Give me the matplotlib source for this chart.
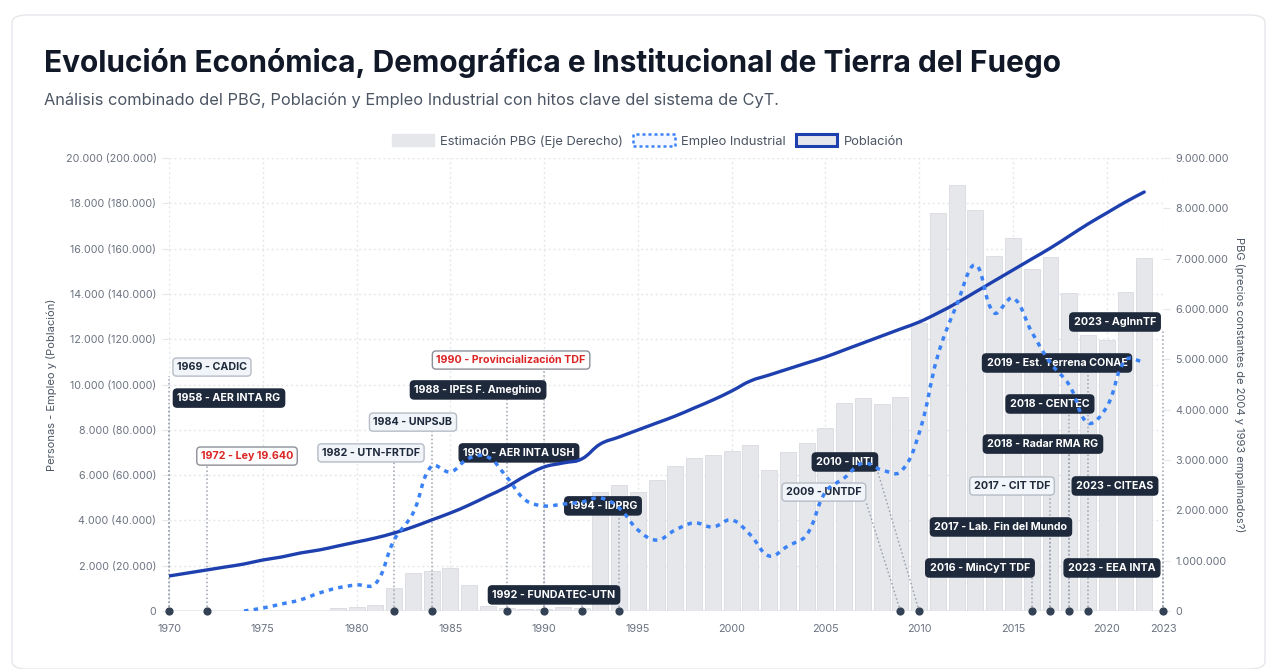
import matplotlib
matplotlib.use('Agg')
import matplotlib.pyplot as plt
from matplotlib.patches import Patch, FancyBboxPatch, PathPatch
from matplotlib.path import Path
import numpy as np

plt.rcParams['font.family'] = ['Inter', 'DejaVu Sans']

# ---------------- DATA ----------------
anios_pob = list(range(1970, 2023))
poblacion = [15450, 16780, 18100, 19430, 20750, 22520, 23840, 25610, 26930, 28700,
             30460, 32230, 34440, 37090, 40180, 43270, 46800, 50770, 54750, 59600,
             63580, 65340, 67110, 73730, 76820, 79910, 83000, 86090, 89620, 93160,
             97130, 101550, 104190, 106840, 109490, 112140, 115230, 118320, 121410, 124500,
             127590, 131570, 135980, 140840, 145700, 150550, 155410, 160260, 165560, 170860,
             175720, 180570, 184990]

anios_empleo = list(range(1974, 2023))
empleo = [0, 130, 310, 490, 790, 1020, 1150, 1190, 3130, 4300,
          6400, 6140, 6750, 6800, 5920, 4900, 4640, 4720, 4810, 4990,
          4550, 3580, 3130, 3580, 3890, 3710, 4020, 3360, 2430, 2870,
          3360, 5250, 5870, 6530, 6230, 6140, 7860, 11300, 13510, 15280,
          13160, 13820, 12320, 10950, 9980, 8300, 9010, 11080, 10990]

anios_pbg = list(range(1979, 2023))
pbg = [50000, 80000, 120000, 450000, 760000, 790000, 850000, 520000, 100000, 60000,
       40000, 40000, 70000, 60000, 2370000, 2500000, 2370000, 2600000, 2880000, 3040000,
       3100000, 3180000, 3300000, 2800000, 3160000, 3340000, 3640000, 4130000, 4230000, 4110000,
       4250000, 5720000, 7910000, 8460000, 7970000, 7050000, 7410000, 6800000, 7030000, 6320000,
       5480000, 5380000, 6340000, 7010000]

hitos_anio = [1969, 1958, 1972, 1982, 1984, 1988, 1990, 1990, 1994, 1992,
              2009, 2010, 2016, 2017, 2017, 2018, 2018, 2019, 2023, 2023, 2023]
hitos_texto = ["CADIC", "AER INTA RG", "Ley 19.640", "UTN-FRTDF", "UNPSJB",
               "IPES F. Ameghino", "Provincialización TDF", "AER INTA USH", "IDPRG",
               "FUNDATEC-UTN", "UNTDF", "INTI", "MinCyT TDF", "Lab. Fin del Mundo",
               "CIT TDF", "Radar RMA RG", "CENTEC", "Est. Terrena CONAE", "AgInnTF",
               "CITEAS", "EEA INTA"]
hitos_tipo = ["light", "dark", "red", "light", "light", "dark", "red", "dark", "dark",
              "dark", "light", "dark", "dark", "dark", "light", "dark", "dark", "dark",
              "dark", "dark", "dark"]

# layout: label centre positions (x in years, y on left axis)
label_pos = [(1972.29, 10770), (1973.20, 9400), (1974.16, 6840), (1980.77, 6980),
             (1983.01, 8340), (1986.48, 9760), (1988.24, 11080), (1988.66, 6980),
             (1993.14, 4640), (1990.53, 710), (2004.92, 5250), (2006.04, 6580),
             (2013.24, 1900), (2014.36, 3710), (2014.95, 5520), (2016.60, 7370),
             (2016.97, 9140), (2017.35, 10950), (2020.44, 12760), (2020.44, 5520),
             (2020.28, 1900)]

X_MIN, X_MAX = 1970, 2023
x_ticks = [1970, 1975, 1980, 1985, 1990, 1995, 2000, 2005, 2010, 2015, 2020, 2023]
y_left_ticks = list(range(0, 20001, 2000))
y_right_ticks = list(range(0, 9000001, 1000000))

# ---------------- FIGURE ----------------
W, H = 1273, 669
fig = plt.figure(figsize=(W / 100, H / 100), dpi=100)
fig.patch.set_facecolor('white')
card = FancyBboxPatch((12 / W, 0.0), (1265 - 12) / W, (669 - 15) / H,
                      boxstyle="round,pad=0,rounding_size=0.012",
                      transform=fig.transFigure, facecolor='white',
                      edgecolor='#e5e7eb', lw=1.0, zorder=0)
fig.patches.append(card)

fig.text(44 / W, 1 - 63 / H, "Evolución Económica, Demográfica e Institucional de Tierra del Fuego",
         fontsize=21.5, fontweight='bold', color='#111827', va='center', ha='left')
fig.text(44 / W, 1 - 100 / H,
         "Análisis combinado del PBG, Población y Empleo Industrial con hitos clave del sistema de CyT.",
         fontsize=11.8, color='#4b5563', va='center', ha='left')

L, R, T, B = 169, 1163, 158, 611
ax = fig.add_axes([L / W, 1 - B / H, (R - L) / W, (B - T) / H])
ax2 = ax.twinx()
ax.set_zorder(2)
ax.patch.set_visible(False)
ax2.set_zorder(1)

ax.set_xlim(X_MIN, X_MAX)
ax.set_ylim(0, 20000)
ax2.set_ylim(0, 9000000)

for a in (ax, ax2):
    for s in a.spines.values():
        s.set_visible(False)

# grid (drawn in bottom axes)
for v in y_left_ticks:
    ax2.axhline(v / 20000 * 9000000, color='#e5e7eb', lw=1, ls=(0, (1.5, 2)), zorder=0)
for v in x_ticks:
    ax2.axvline(v, color='#e5e7eb', lw=1, ls=(0, (1.5, 2)), zorder=0)
ax2.axhline(0, color='#e5e7eb', lw=1.2, zorder=0)

# bars
ax2.bar(anios_pbg, pbg, width=0.85, color='#e5e7eb', edgecolor='#d8dbe0', lw=0.6, zorder=1)

# ticks
def fmt_miles(v):
    return f"{int(v):,}".replace(',', '.')

ax.set_xticks(x_ticks)
ax.set_xticklabels([str(v) for v in x_ticks])
ax.set_yticks(y_left_ticks)
ax.set_yticklabels(['0' if v == 0 else f"{fmt_miles(v)} ({fmt_miles(v * 10)})" for v in y_left_ticks])
ax2.set_yticks(y_right_ticks)
ax2.set_yticklabels([fmt_miles(v) for v in y_right_ticks])
ax.tick_params(axis='x', length=0, pad=9, labelsize=7.8, labelcolor='#6b7280')
ax.tick_params(axis='y', length=5, color='#e5e7eb', pad=4, labelsize=7.7, labelcolor='#6b7280')
ax2.tick_params(axis='y', length=5, color='#e5e7eb', pad=4, labelsize=7.8, labelcolor='#6b7280')
ax.set_ylabel("Personas - Empleo y (Población)", fontsize=8, color='#4b5563', labelpad=6)
ax2.set_ylabel("PBG (precios constantes de 2004 y 1993 empalmados?)", fontsize=8,
               color='#4b5563', rotation=270, labelpad=11)

# Chart.js-like spline
def spline_path(a, xs, ys, tension=0.4):
    pts = a.transData.transform(np.column_stack([xs, ys]).astype(float))
    n = len(pts)
    cp_prev, cp_next = [], []
    for i in range(n):
        prev = pts[max(i - 1, 0)]
        cur = pts[i]
        nxt = pts[min(i + 1, n - 1)]
        d01 = np.hypot(*(cur - prev))
        d12 = np.hypot(*(nxt - cur))
        tot = d01 + d12
        s01 = d01 / tot if tot else 0
        s12 = d12 / tot if tot else 0
        cp_prev.append(cur - tension * s01 * (nxt - prev))
        cp_next.append(cur + tension * s12 * (nxt - prev))
    bb = a.bbox
    verts = [pts[0]]
    codes = [Path.MOVETO]
    for i in range(n - 1):
        for p in (cp_next[i], cp_prev[i + 1]):
            q = p.copy()
            q[1] = min(max(q[1], bb.y0), bb.y1)
            verts.append(q)
        verts.append(pts[i + 1])
        codes += [Path.CURVE4] * 3
    verts = a.transData.inverted().transform(np.array(verts))
    return Path(verts, codes)

pob_plot = [p / 10 for p in poblacion]
ax.add_patch(PathPatch(spline_path(ax, anios_pob, pob_plot), facecolor='none',
                       edgecolor='#1e40af', lw=2.4, zorder=6, capstyle='round'))
ax.add_patch(PathPatch(spline_path(ax, anios_empleo, empleo), facecolor='none',
                       edgecolor='#3b82f6', lw=2.5, ls=(0, (1.3, 1.5)), zorder=6))

# milestone labels
styles = {
    'dark': dict(fc='#1e293b', ec='#1e293b', tc='white'),
    'light': dict(fc='#f1f5f9', ec='#b6bcc6', tc='#1e293b'),
    'red': dict(fc='white', ec='#8b8f96', tc='#dc2626'),
}
texts = []
for yr, txt, tp, (lx, ly) in zip(hitos_anio, hitos_texto, hitos_tipo, label_pos):
    st = styles[tp]
    t = ax.text(lx, ly, f"{yr} - {txt}", ha='center', va='center', fontsize=7.7,
                fontweight='bold', color=st['tc'], zorder=4,
                bbox=dict(boxstyle='round,pad=0.38,rounding_size=0.35', fc=st['fc'],
                          ec=st['ec'], lw=1.0))
    texts.append(t)

fig.canvas.draw()
renderer = fig.canvas.get_renderer()
inv = ax.transData.inverted()
for yr, t in zip(hitos_anio, texts):
    xd = min(max(yr, X_MIN), X_MAX)
    bb = t.get_bbox_patch().get_window_extent(renderer)
    (x0, y0), (x1, y1) = inv.transform([[bb.x0, bb.y0], [bb.x1, bb.y1]])
    tol = 0.4
    if x0 - tol <= xd <= x1 + tol:
        tx = xd
    else:
        tx = x0 if xd < x0 else x1
    ax.plot([xd, tx], [0, y0], color='#9ca3af', lw=1.1, ls=(0, (1, 1.6)), zorder=3,
            clip_on=False)

dot_years = sorted(set(min(max(y, X_MIN), X_MAX) for y in hitos_anio))
ax.scatter(dot_years, [0] * len(dot_years), s=24, color='#334155', zorder=8, clip_on=False)

# legend
handles = [Patch(facecolor='#e5e7eb', edgecolor='#e5e7eb', label='Estimación PBG (Eje Derecho)'),
           Patch(facecolor='#f5f8ff', edgecolor='#3b82f6', lw=1.8, ls=(0, (1.2, 1.2)),
                 label='Empleo Industrial'),
           Patch(facecolor='#e5e7eb', edgecolor='#1e40af', lw=2.2, label='Población')]
fig.legend(handles=handles, loc='center', bbox_to_anchor=(648 / W, 1 - 141 / H), ncol=3,
           frameon=False, fontsize=9.3, labelcolor='#4b5563', handlelength=3.2,
           handleheight=1.0, columnspacing=0.8, handletextpad=0.5)

fig.savefig('out.png', dpi=100, facecolor='white')
